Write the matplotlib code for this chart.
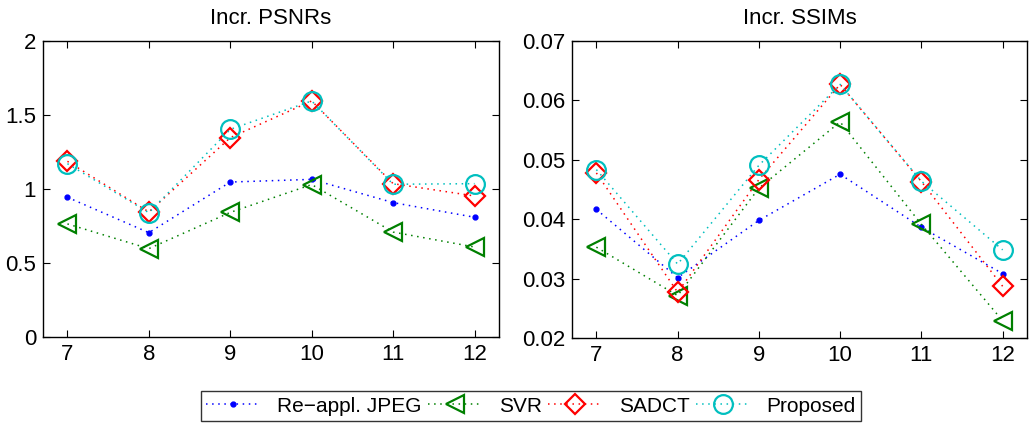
import matplotlib.pyplot as plt
import numpy as np

plt.rcParams['font.family'] = ['Liberation Sans', 'DejaVu Sans']

x = [7, 8, 9, 10, 11, 12]
labels = ['Re\u2212appl. JPEG', 'SVR', 'SADCT', 'Proposed']

# Incr. PSNRs
psnr_jpeg = [0.944, 0.705, 1.047, 1.065, 0.908, 0.809]
psnr_svr = [0.764, 0.597, 0.842, 1.030, 0.709, 0.608]
psnr_sadct = [1.187, 0.845, 1.347, 1.595, 1.036, 0.953]
psnr_prop = [1.171, 0.840, 1.403, 1.595, 1.032, 1.036]

# Incr. SSIMs
ssim_jpeg = [0.04165, 0.03016, 0.0398, 0.04757, 0.03864, 0.03083]
ssim_svr = [0.03529, 0.02714, 0.04522, 0.05638, 0.03914, 0.0229]
ssim_sadct = [0.04779, 0.0277, 0.04667, 0.06269, 0.04634, 0.02871]
ssim_prop = [0.04835, 0.03244, 0.04907, 0.06269, 0.0464, 0.03484]

styles = [
    dict(color='#0000ff', marker='.', markersize=7),
    dict(color='#008000', marker='<', markersize=13, markerfacecolor='none', markeredgewidth=1.6),
    dict(color='#ff0000', marker='D', markersize=10.5, markerfacecolor='none', markeredgewidth=1.6),
    dict(color='#00bfbf', marker='o', markersize=13.5, markerfacecolor='none', markeredgewidth=1.6),
]

fig = plt.figure(figsize=(10.29, 4.23), dpi=100)
ax1 = fig.add_axes([43 / 1029, 86 / 423, 456 / 1029, 296 / 423])
ax2 = fig.add_axes([572 / 1029, 85 / 423, 455 / 1029, 297 / 423])


def draw(ax, series, title, ylim, yticks, yfmt):
    lines = []
    for ys, st in zip(series, styles):
        ln, = ax.plot(x, ys, linestyle=(0, (1, 3)), linewidth=1.1, **st)
        lines.append(ln)
    ax.set_xlim(6.7, 12.3)
    ax.set_ylim(*ylim)
    ax.set_xticks(x)
    ax.set_yticks(yticks)
    ax.set_yticklabels([yfmt(v) for v in yticks])
    ax.tick_params(direction='in', top=True, right=True, labelsize=16,
                   length=5, width=0.8, pad=5)
    ax.set_title(title, fontsize=16, pad=12)
    for s in ax.spines.values():
        s.set_linewidth(1)
    return lines


lines = draw(ax1, [psnr_jpeg, psnr_svr, psnr_sadct, psnr_prop], 'Incr. PSNRs',
             (0, 2), [0, 0.5, 1, 1.5, 2], lambda v: '%g' % v)
draw(ax2, [ssim_jpeg, ssim_svr, ssim_sadct, ssim_prop], 'Incr. SSIMs',
     (0.02, 0.07), [0.02, 0.03, 0.04, 0.05, 0.06, 0.07], lambda v: '%.2f' % v)

leg = fig.legend(lines, labels, loc='center', bbox_to_anchor=(531 / 1029, 1 - 406 / 423),
                 ncol=4, fontsize=15, frameon=True, fancybox=False,
                 edgecolor='black', handlelength=2.6, columnspacing=0.3,
                 handletextpad=0.8, borderpad=0.25, borderaxespad=0)
leg.get_frame().set_linewidth(1)

fig.savefig('out.png', dpi=100)
